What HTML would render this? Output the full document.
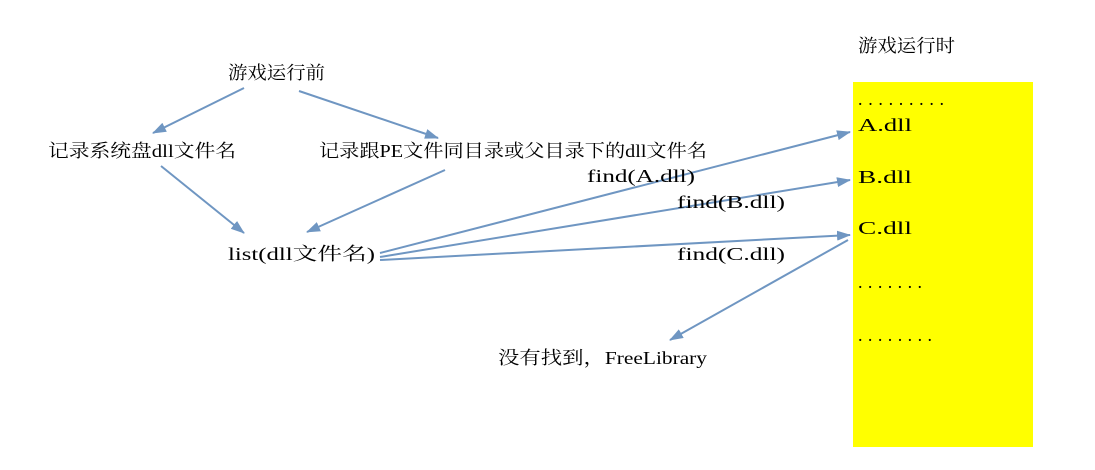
<!DOCTYPE html>
<html><head><meta charset="utf-8"><style>
html,body{margin:0;padding:0;background:#fff;}
svg text{font-family:"Liberation Serif","Noto Serif CJK SC",serif;font-size:18px;fill:#000;}
</style></head><body>
<svg width="1095" height="465" xmlns="http://www.w3.org/2000/svg">
<defs><marker id="a" markerWidth="14" markerHeight="10" refX="13" refY="5" orient="auto" markerUnits="userSpaceOnUse"><path d="M0,0 L14,5 L0,10 z" fill="#6f96c2"/></marker></defs>
<rect x="853" y="82" width="180" height="365" fill="#ffff00"/>
<g stroke="#6f96c2" stroke-width="2" fill="none" marker-end="url(#a)">
<line x1="244" y1="88" x2="153" y2="133"/>
<line x1="299" y1="91" x2="438" y2="138"/>
<line x1="161" y1="166" x2="244" y2="233"/>
<line x1="445" y1="170" x2="307" y2="232"/>
<line x1="380" y1="253" x2="850" y2="132"/>
<line x1="380" y1="257" x2="850" y2="180"/>
<line x1="380" y1="260" x2="850" y2="235"/>
<line x1="848" y1="240" x2="670" y2="340"/>
</g>
<text x="228" y="79" textLength="97" lengthAdjust="spacingAndGlyphs">游戏运行前</text>
<text x="48" y="157" textLength="188" lengthAdjust="spacingAndGlyphs">记录系统盘dll文件名</text>
<text x="319" y="157" textLength="388" lengthAdjust="spacingAndGlyphs">记录跟PE文件同目录或父目录下的dll文件名</text>
<text x="228" y="260" textLength="147" lengthAdjust="spacingAndGlyphs">list(dll文件名)</text>
<text x="587" y="182" textLength="108" lengthAdjust="spacingAndGlyphs">find(A.dll)</text>
<text x="677" y="208" textLength="108" lengthAdjust="spacingAndGlyphs">find(B.dll)</text>
<text x="677" y="260" textLength="108" lengthAdjust="spacingAndGlyphs">find(C.dll)</text>
<text x="498" y="364" textLength="209" lengthAdjust="spacingAndGlyphs">没有找到，FreeLibrary</text>
<text x="858" y="52" textLength="97" lengthAdjust="spacingAndGlyphs">游戏运行时</text>
<text x="858" y="105" textLength="86">.........</text>
<text x="858" y="131" textLength="54" lengthAdjust="spacingAndGlyphs">A.dll</text>
<text x="858" y="183" textLength="54" lengthAdjust="spacingAndGlyphs">B.dll</text>
<text x="858" y="234" textLength="54" lengthAdjust="spacingAndGlyphs">C.dll</text>
<text x="858" y="288" textLength="64">.......</text>
<text x="858" y="341" textLength="74">........</text>
</svg>
</body></html>
